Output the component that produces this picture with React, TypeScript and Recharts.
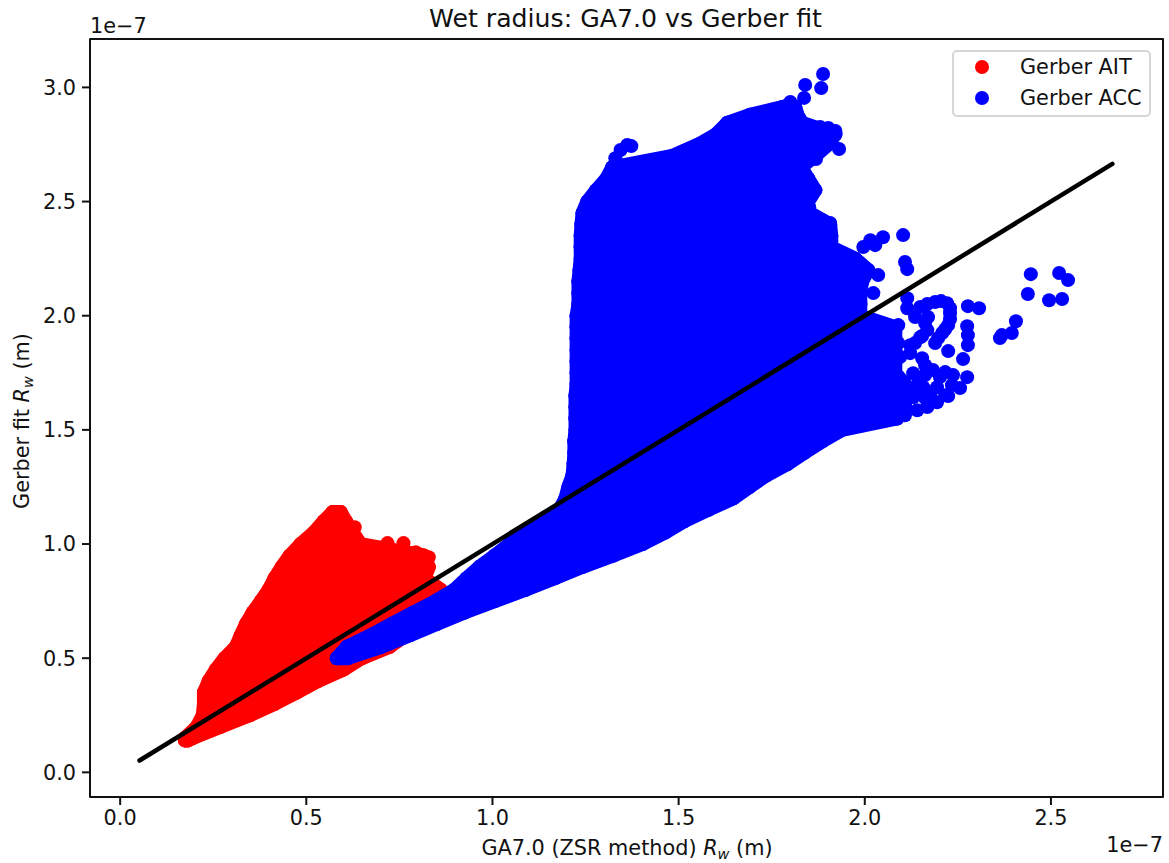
import { ScatterChart, Scatter, XAxis, YAxis, ReferenceArea, Legend } from "recharts";

// all values in units of 1e-7 m
const xTicks = [0, 0.5, 1, 1.5, 2, 2.5];
const yTicks = [0, 0.5, 1, 1.5, 2, 2.5, 3];
const legendNames = ["Gerber AIT", "Gerber ACC"];

// Gerber AIT blob, read row by row: fit value, leftmost and rightmost GA7.0 value
const aitRowY = [0.14, 0.15, 0.2, 0.25, 0.3, 0.35, 0.4, 0.45, 0.5, 0.55, 0.6, 0.65, 0.7, 0.75, 0.8, 0.85, 0.9, 0.95, 1.0, 1.05, 1.1, 1.14];
const aitRowLeft = [0.174, 0.174, 0.206, 0.222, 0.225, 0.225, 0.238, 0.257, 0.281, 0.311, 0.324, 0.338, 0.356, 0.378, 0.399, 0.415, 0.434, 0.456, 0.485, 0.52, 0.547, 0.571];
const aitRowRight = [0.182, 0.195, 0.27, 0.348, 0.415, 0.474, 0.531, 0.6, 0.649, 0.724, 0.767, 0.821, 0.874, 0.861, 0.861, 0.818, 0.829, 0.815, 0.646, 0.625, 0.606, 0.592];
const aitLooseX = [0.63, 0.665, 0.678, 0.718, 0.761, 0.794, 0.829];
const aitLooseY = [1.074, 0.99, 0.96, 1.004, 1.004, 0.964, 0.942];

// Gerber ACC main body, same reading
const accRowY = [0.5, 0.55, 0.6, 0.65, 0.7, 0.75, 0.8, 0.85, 0.9, 0.95, 1.0, 1.05, 1.1, 1.15, 1.2, 1.25, 1.3, 1.35, 1.4, 1.45, 1.5, 1.55, 1.6, 1.65, 1.7, 1.75, 1.8, 1.85, 1.9, 1.95, 2.0, 2.05, 2.1, 2.15, 2.2, 2.25, 2.3, 2.35, 2.4, 2.45, 2.5, 2.55, 2.6, 2.65, 2.7, 2.75, 2.795, 2.845, 2.88, 2.915];
const accRowLeft = [0.582, 0.609, 0.673, 0.729, 0.788, 0.847, 0.898, 0.931, 0.965, 1.006, 1.046, 1.089, 1.129, 1.18, 1.196, 1.204, 1.215, 1.218, 1.22, 1.22, 1.223, 1.223, 1.223, 1.223, 1.226, 1.226, 1.226, 1.226, 1.226, 1.226, 1.226, 1.231, 1.231, 1.231, 1.234, 1.237, 1.237, 1.237, 1.239, 1.242, 1.255, 1.279, 1.306, 1.322, 1.483, 1.553, 1.601, 1.631, 1.692, 1.781];
const accRowRight = [0.611, 0.702, 0.778, 0.85, 0.925, 1.006, 1.089, 1.167, 1.242, 1.325, 1.403, 1.464, 1.515, 1.58, 1.647, 1.69, 1.735, 1.792, 1.838, 1.886, 1.939, 2.087, 2.108, 2.108, 2.108, 2.082, 2.082, 2.082, 2.082, 2.082, 1.988, 1.988, 1.988, 1.993, 2.009, 1.974, 1.91, 1.91, 1.907, 1.853, 1.848, 1.867, 1.848, 1.829, 1.867, 1.902, 1.921, 1.832, 1.819, 1.813];

// single ACC points around the body
const accLooseX = [1.33, 1.344, 1.362, 1.373, 1.888, 1.883, 1.84, 1.837, 1.8, 1.738, 1.696, 1.88, 1.902, 1.921, 1.893, 1.869, 1.931, 2.015, 1.996, 2.028, 2.049, 2.103, 2.108, 2.114, 2.036, 2.023, 1.907, 2.114, 2.114, 2.149, 2.189, 2.221, 2.229, 2.224, 2.208, 2.189, 2.168, 2.17, 2.135, 2.277, 2.307, 2.275, 2.277, 2.277, 2.224, 2.264, 2.275, 2.256, 2.224, 2.194, 2.168, 2.202, 2.183, 2.135, 2.154, 2.237, 2.122, 2.09, 2.063, 2.09, 2.095, 2.13, 2.157, 2.194, 2.13, 2.103, 2.068, 2.446, 2.438, 2.522, 2.546, 2.495, 2.53, 2.406, 2.395, 2.368, 2.363, 2.168, 2.205, 2.229, 2.229, 2.216, 2.197, 2.162, 2.149, 2.154, 2.122, 2.162, 2.143, 2.176, 2.216, 2.108, 2.141, 2.108, 2.162, 2.216, 2.234, 2.135, 2.162];
const accLooseY = [2.69, 2.726, 2.748, 2.743, 3.059, 2.997, 3.011, 2.954, 2.936, 2.892, 2.871, 2.827, 2.822, 2.809, 2.748, 2.686, 2.73, 2.331, 2.301, 2.309, 2.344, 2.353, 2.235, 2.204, 2.178, 2.099, 2.406, 2.077, 2.033, 2.038, 2.06, 2.055, 2.011, 1.959, 1.924, 1.88, 1.937, 1.994, 1.994, 2.042, 2.033, 1.954, 1.915, 1.871, 1.845, 1.81, 1.731, 1.683, 1.648, 1.621, 1.6, 1.731, 1.762, 1.88, 1.814, 1.74, 1.836, 1.959, 1.946, 1.88, 1.819, 1.748, 1.687, 1.687, 1.643, 1.608, 1.578, 2.182, 2.095, 2.187, 2.156, 2.068, 2.073, 1.976, 1.924, 1.915, 1.902, 2.051, 2.064, 2.033, 1.985, 1.941, 1.902, 1.968, 1.906, 1.911, 1.871, 1.74, 1.705, 1.652, 1.652, 1.652, 1.586, 1.564, 1.783, 1.753, 1.696, 1.674, 1.639];

const oneToOne = [0.052, 2.665];

const xDomain = [-0.081, 2.801];
const yDomain = [-0.108, 3.212];

const font = "'DejaVu Sans', sans-serif";
const ink = "#111";

// walk the rows left-right-left, then both edges, so a thick joined line covers the whole blob
const scanRows = (ys: number[], lefts: number[], rights: number[]) => {
  const rows = ys.flatMap((y, i) =>
    i % 2 === 0
      ? [{ x: lefts[i], y }, { x: rights[i], y }]
      : [{ x: rights[i], y }, { x: lefts[i], y }]
  );
  const leftEdge = ys.map((y, i) => ({ x: lefts[i], y })).reverse();
  const rightEdge = ys.map((y, i) => ({ x: rights[i], y }));
  return [...rows, ...leftEdge, ...rightEdge];
};

const zipPoints = (xs: number[], ys: number[]) => xs.map((x, i) => ({ x, y: ys[i] }));

const aitBody = scanRows(aitRowY, aitRowLeft, aitRowRight);
const aitLoose = zipPoints(aitLooseX, aitLooseY);
const accBody = scanRows(accRowY, accRowLeft, accRowRight);
const accLoose = zipPoints(accLooseX, accLooseY);
const linePoints = oneToOne.map((v) => ({ x: v, y: v }));

const dot = (color: string) => (props: any) => <circle cx={props.cx} cy={props.cy} r={7} fill={color} />;

const LegendBox = ({ payload }: any) => (
  <div
    style={{
      boxSizing: "border-box",
      width: 199,
      height: 67,
      background: "#fff",
      border: "2px solid #d6d6d6",
      borderRadius: 5,
      position: "relative",
      fontFamily: font,
      fontSize: 20.8,
      color: ink,
    }}
  >
    {legendNames.map((name, i) => {
      const entry = (payload || []).find((p: any) => p.value === name);
      return (
        <div key={name} style={{ position: "absolute", top: 2 + i * 31, left: 0, height: 26, lineHeight: "26px", whiteSpace: "nowrap" }}>
          <svg width={14} height={14} style={{ position: "absolute", left: 21, top: 6 }}>
            <circle cx={7} cy={7} r={7} fill={entry ? entry.color : ink} />
          </svg>
          <span style={{ position: "absolute", left: 66 }}>{name}</span>
        </div>
      );
    })}
  </div>
);

const App = () => {
  return (
    <div style={{ position: "absolute", left: 0, top: 0, width: 1169, height: 863, background: "#fff" }}>
      <style>{".blobs path{stroke-linejoin:round;stroke-linecap:round}"}</style>
      <div className="blobs">
        <ScatterChart width={1169} height={863} margin={{ top: 39, right: 6, left: 0, bottom: 0 }}>
          <XAxis
            type="number"
            dataKey="x"
            domain={xDomain}
            ticks={xTicks}
            allowDataOverflow
            interval={0}
            height={66}
            tickFormatter={(v: number) => v.toFixed(1)}
            tick={{ fontSize: 20.8, fontFamily: font, fill: ink }}
            tickSize={8}
            tickMargin={5}
            stroke={ink}
            strokeWidth={2}
          />
          <YAxis
            type="number"
            dataKey="y"
            domain={yDomain}
            ticks={yTicks}
            allowDataOverflow
            interval={0}
            width={90}
            tickFormatter={(v: number) => v.toFixed(1)}
            tick={{ fontSize: 20.8, fontFamily: font, fill: ink }}
            tickSize={8}
            tickMargin={6}
            stroke={ink}
            strokeWidth={2}
          />
          <ReferenceArea x1={xDomain[0]} x2={xDomain[1]} y1={yDomain[0]} y2={yDomain[1]} fill="none" stroke={ink} strokeWidth={2} fillOpacity={0} />
          <Scatter name="Gerber AIT" data={aitBody} fill="#ff0000" shape={dot("#ff0000")} line={{ stroke: "#ff0000", strokeWidth: 14 }} isAnimationActive={false} />
          <Scatter name="ait single" data={aitLoose} fill="#ff0000" shape={dot("#ff0000")} legendType="none" isAnimationActive={false} />
          <Scatter name="Gerber ACC" data={accBody} fill="#0000ff" shape={dot("#0000ff")} line={{ stroke: "#0000ff", strokeWidth: 14 }} isAnimationActive={false} />
          <Scatter name="acc single" data={accLoose} fill="#0000ff" shape={dot("#0000ff")} legendType="none" isAnimationActive={false} />
          <Scatter
            name="one to one"
            data={linePoints}
            fill="#000"
            line={{ stroke: "#000", strokeWidth: 4.5 }}
            shape={() => null}
            legendType="none"
            isAnimationActive={false}
          />
          <Legend
            layout="vertical"
            align="center"
            verticalAlign="middle"
            content={<LegendBox />}
            wrapperStyle={{ position: "absolute", left: 952, top: 50, width: 199, height: 67 }}
          />
          <text x={625.5} y={27} textAnchor="middle" fontFamily={font} fontSize={25.2} fill={ink}>
            Wet radius: GA7.0 vs Gerber fit
          </text>
          <text x={90} y={33} fontFamily={font} fontSize={20.8} fill={ink}>1e−7</text>
          <text x={1163} y={852} textAnchor="end" fontFamily={font} fontSize={20.8} fill={ink}>1e−7</text>
          <text x={627} y={855} textAnchor="middle" fontFamily={font} fontSize={20.8} fill={ink}>
            GA7.0 (ZSR method) <tspan fontStyle="italic">R</tspan>
            <tspan fontStyle="italic" fontSize={14.5} dy={4}>w</tspan>
            <tspan dy={-4}> (m)</tspan>
          </text>
          <text transform="translate(29 421) rotate(-90)" textAnchor="middle" fontFamily={font} fontSize={20.8} fill={ink}>
            Gerber fit <tspan fontStyle="italic">R</tspan>
            <tspan fontStyle="italic" fontSize={14.5} dy={4}>w</tspan>
            <tspan dy={-4}> (m)</tspan>
          </text>
        </ScatterChart>
      </div>
    </div>
  );
};

export default App;
